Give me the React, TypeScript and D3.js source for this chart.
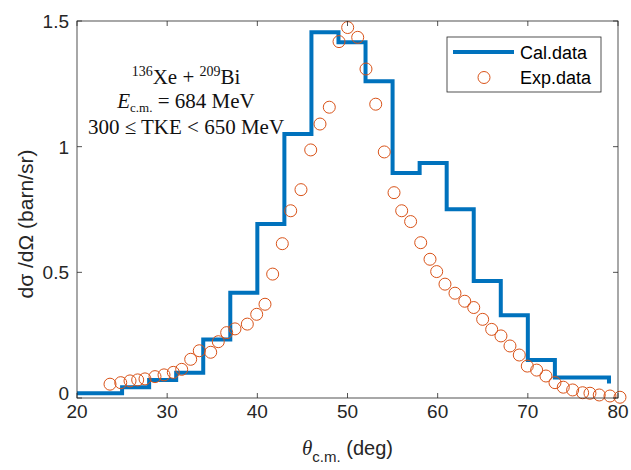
import * as d3 from "d3";

// calculated cross section (stairs)
const calTheta = [20, 25, 28, 31, 34, 37, 40, 43, 46, 49, 52, 55, 58, 61, 64, 67, 70, 73, 76, 79];
const calValue = [0.019, 0.043, 0.072, 0.1, 0.233, 0.419, 0.692, 1.05, 1.455, 1.415, 1.26, 0.895, 0.935, 0.751, 0.466, 0.329, 0.151, 0.082, 0.082, 0.058];

// experimental points
const expTheta = [
  23.66, 24.85, 25.88, 26.73, 27.54, 28.65, 29.65, 30.68, 31.61, 32.61, 33.56, 34.83, 35.67, 36.6,
  37.52, 38.89, 39.93, 40.85, 41.7, 42.77, 43.7, 44.84, 45.92, 46.95, 47.98, 49.06, 50.02, 51.13,
  52.05, 53.13, 54.08, 55.16, 56.01, 57.0, 58.12, 59.15, 59.89, 60.81, 61.92, 63.0, 64.0, 64.99,
  65.99, 67.02, 68.02, 69.05, 69.94, 70.98, 72.01, 73.01, 73.93, 74.97, 76.08, 76.89, 77.92, 79.11, 80.22,
];
const expValue = [
  0.055, 0.061, 0.068, 0.072, 0.076, 0.085, 0.092, 0.102, 0.114, 0.154, 0.188, 0.182, 0.224, 0.26,
  0.275, 0.294, 0.333, 0.373, 0.493, 0.614, 0.745, 0.829, 0.987, 1.09, 1.157, 1.418, 1.474, 1.435,
  1.309, 1.169, 0.979, 0.817, 0.745, 0.702, 0.618, 0.552, 0.503, 0.453, 0.417, 0.385, 0.36, 0.313,
  0.273, 0.247, 0.207, 0.171, 0.127, 0.111, 0.0875, 0.061, 0.043, 0.032, 0.021, 0.019, 0.012, 0.008, 0.003,
];

const xTicks = [20, 30, 40, 50, 60, 70, 80];
const yTicks = [0, 0.5, 1, 1.5];
const yTickLabels = ["0", "0.5", "1", "1.5"];
const legendLabels = ["Cal.data", "Exp.data"];

const W = 631;
const H = 470;
const margin = { top: 21, right: 13, bottom: 72, left: 77 };
const blue = "#0072BD";
const orange = "#D95319";
const axisColor = "#262626";

export default function App() {
  const x = d3.scaleLinear().domain([20, 80]).range([margin.left, W - margin.right]);
  const y = d3.scaleLinear().domain([0, 1.5]).range([H - margin.bottom, margin.top]);

  const stairs = d3
    .line<number>()
    .x((_, i) => x(calTheta[i]))
    .y((d) => y(d))
    .curve(d3.curveStepAfter);

  const x0 = x.range()[0];
  const x1 = x.range()[1];
  const y0 = y.range()[0];
  const y1 = y.range()[1];
  const tick = 5;

  return (
    <svg
      width={W}
      height={H}
      style={{ position: "absolute", left: 0, top: 0, background: "#fff" }}
      fontFamily="'Liberation Sans', Arial, sans-serif"
    >
      <rect x={0} y={0} width={W} height={H} fill="#fff" />

      {/* data */}
      <path d={stairs(calValue) || ""} fill="none" stroke={blue} strokeWidth={4} />
      {expTheta.map((t, i) => (
        <circle key={i} cx={x(t)} cy={y(expValue[i])} r={6} fill="none" stroke={orange} strokeWidth={1} />
      ))}

      {/* axes box */}
      <rect x={x0} y={y1} width={x1 - x0} height={y0 - y1} fill="none" stroke={axisColor} strokeWidth={0.8} />
      {xTicks.map((t) => (
        <g key={t}>
          <line x1={x(t)} x2={x(t)} y1={y0} y2={y0 - tick} stroke={axisColor} strokeWidth={0.8} />
          <line x1={x(t)} x2={x(t)} y1={y1} y2={y1 + tick} stroke={axisColor} strokeWidth={0.8} />
          <text x={x(t)} y={y0 + 20} textAnchor="middle" fontSize={19} fill={axisColor}>
            {t}
          </text>
        </g>
      ))}
      {yTicks.map((t, i) => (
        <g key={t}>
          <line x1={x0} x2={x0 + tick} y1={y(t)} y2={y(t)} stroke={axisColor} strokeWidth={0.8} />
          <line x1={x1} x2={x1 - tick} y1={y(t)} y2={y(t)} stroke={axisColor} strokeWidth={0.8} />
          <text x={x0 - 8} y={y(t) + (i === 0 ? 2 : 7)} textAnchor="end" fontSize={19} fill={axisColor}>
            {yTickLabels[i]}
          </text>
        </g>
      ))}

      {/* axis labels */}
      <text x={(x0 + x1) / 2} y={455} textAnchor="middle" fontSize={20} fill={axisColor}>
        <tspan fontFamily="'Liberation Serif', serif" fontStyle="italic" fontSize={21}>θ</tspan>
        <tspan dy={7} fontSize={15}>c.m.</tspan>
        <tspan dy={-7}> (deg)</tspan>
      </text>
      <text
        transform={`translate(33, 224) rotate(-90)`}
        textAnchor="middle"
        fontSize={21}
        fill={axisColor}
      >
        dσ /dΩ (barn/sr)
      </text>

      {/* annotation */}
      <g fontFamily="'Liberation Serif', 'Times New Roman', serif" fontSize={21} fill="#111" textAnchor="middle">
        <text x={186} y={84}>
          <tspan dy={-8} fontSize={14}>136</tspan>
          <tspan dy={8}>Xe + </tspan>
          <tspan dy={-8} fontSize={14}>209</tspan>
          <tspan dy={8}>Bi</tspan>
        </text>
        <text x={186} y={108}>
          <tspan fontStyle="italic">E</tspan>
          <tspan dy={4} fontSize={13}>c.m.</tspan>
          <tspan dy={-4}> = 684 MeV</tspan>
        </text>
        <text x={186} y={134}>300 ≤ TKE &lt; 650 MeV</text>
      </g>

      {/* legend */}
      <rect x={447} y={37} width={154} height={55} fill="#fff" stroke={axisColor} strokeWidth={0.8} />
      <line x1={453} x2={514} y1={52} y2={52} stroke={blue} strokeWidth={4} />
      <circle cx={484} cy={77.5} r={6} fill="none" stroke={orange} strokeWidth={1} />
      <text x={520} y={59} fontSize={18} fill="#000">
        {legendLabels[0]}
      </text>
      <text x={520} y={84} fontSize={18} fill="#000">
        {legendLabels[1]}
      </text>
    </svg>
  );
}
